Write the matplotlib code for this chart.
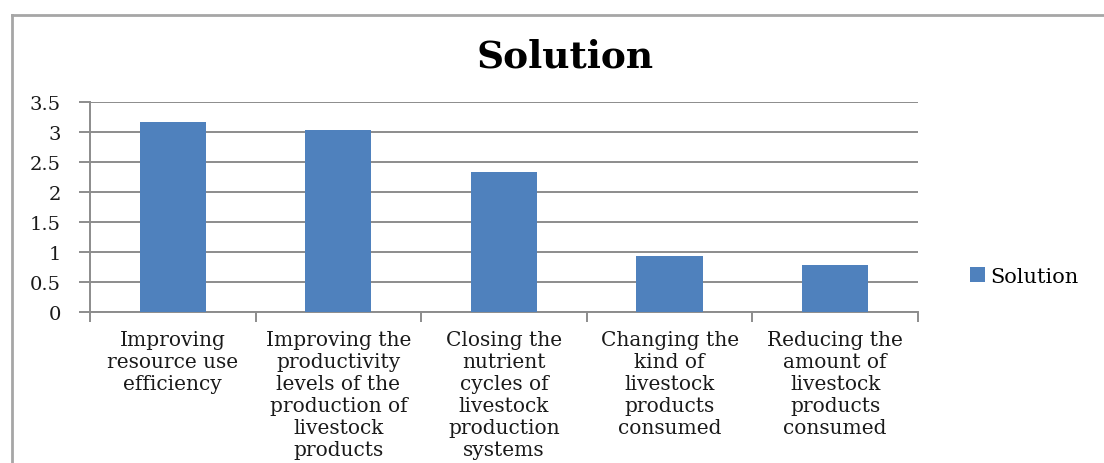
import matplotlib.pyplot as plt
import numpy as np
from matplotlib.lines import Line2D

categories = [
    "Improving\nresource use\nefficiency",
    "Improving the\nproductivity\nlevels of the\nproduction of\nlivestock\nproducts",
    "Closing the\nnutrient\ncycles of\nlivestock\nproduction\nsystems",
    "Changing the\nkind of\nlivestock\nproducts\nconsumed",
    "Reducing the\namount of\nlivestock\nproducts\nconsumed",
]
values = [3.17, 3.04, 2.34, 0.94, 0.79]
yticks = [0, 0.5, 1, 1.5, 2, 2.5, 3, 3.5]
ytick_labels = ["0", "0.5", "1", "1.5", "2", "2.5", "3", "3.5"]
series_name = "Solution"

bar_color = "#4F81BD"
grid_color = "#8C8C8C"

plt.rcParams["font.family"] = ["DejaVu Serif"]

fig = plt.figure(figsize=(11.04, 4.64), dpi=100)
ax = fig.add_axes([0.0815, 0.3254, 0.75, 0.4526])

x = np.arange(len(categories))
bars = ax.bar(x, values, width=0.4, color=bar_color, zorder=3, label=series_name)

ax.set_xlim(-0.5, len(categories) - 0.5)
ax.set_ylim(0, 3.5)
ax.set_yticks(yticks)
ax.set_yticklabels(ytick_labels, fontsize=14)
ax.yaxis.grid(True, color=grid_color, linewidth=1.4, zorder=0)

# category ticks sit on the boundaries, labels at the centres
ax.set_xticks(np.arange(-0.5, len(categories), 1.0))
ax.set_xticklabels([])
ax.set_xticks(x, minor=True)
ax.set_xticklabels(categories, minor=True, fontsize=14.5, linespacing=1.2,
                   color="#1a1a1a")
ax.tick_params(axis="x", which="minor", length=0, pad=13)
ax.tick_params(axis="x", which="major", length=7, width=1.4, color=grid_color)
ax.tick_params(axis="y", length=8, width=1.4, color=grid_color, pad=13,
               labelcolor="#1a1a1a")

for side in ["top", "right"]:
    ax.spines[side].set_visible(False)
for side in ["left", "bottom"]:
    ax.spines[side].set_color(grid_color)
    ax.spines[side].set_linewidth(1.4)

fig.text(0.512, 0.877, "Solution", ha="center", va="center",
         fontsize=27, fontweight="bold")

fig.legend(handles=[bars], labels=[series_name], loc="center left",
           bbox_to_anchor=(0.879, 0.402), frameon=False, fontsize=15,
           handlelength=0.7, handleheight=0.7, handletextpad=0.25,
           borderaxespad=0, borderpad=0)

# outer chart frame, open on the right and bottom
fig.add_artist(Line2D([0.011, 1.0], [0.965, 0.965], transform=fig.transFigure,
                      color="#A6A6A6", linewidth=2))
fig.add_artist(Line2D([0.011, 0.011], [0.0, 0.965], transform=fig.transFigure,
                      color="#A6A6A6", linewidth=2))

fig.savefig("out.png", dpi=100)
